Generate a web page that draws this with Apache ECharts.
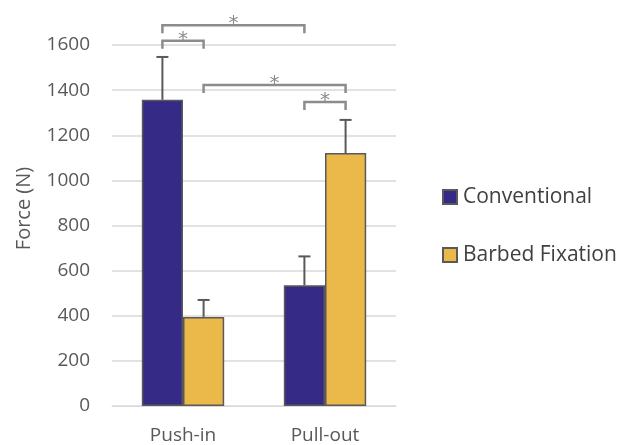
<!DOCTYPE html>
<html>
<head>
<meta charset="utf-8">
<script src="https://cdn.jsdelivr.net/npm/echarts@6/dist/echarts.min.js"></script>
<style>
  html, body { margin: 0; padding: 0; background: #fff; }
  #chart { width: 620px; height: 445px; }
</style>
</head>
<body>
<div id="chart"></div>
<script>
// Mean force per test, with the upper standard deviation
const categories = ['Push-in', 'Pull-out'];
const seriesNames = ['Conventional', 'Barbed Fixation'];
const conventional = [1357, 535];
const conventionalSD = [190, 128];
const barbed = [395, 1121];
const barbedSD = [75, 147];
const yTicks = [0, 200, 400, 600, 800, 1000, 1200, 1400, 1600];

// Significance brackets: [category, series] of each end, bracket height (N)
const bracketFrom = [[0, 0], [0, 0], [0, 1], [1, 0]];
const bracketTo = [[1, 0], [0, 1], [1, 1], [1, 1]];
const bracketLevel = [1688, 1619, 1423, 1347];

const FONT = 'Open Sans';
const colors = ['#352A85', '#EBB84A'];
const BAR_FRAC = 0.29; // each bar's share of the category band

const means = [conventional, barbed];
const sds = [conventionalSD, barbedSD];

const chart = echarts.init(document.getElementById('chart'), null, { renderer: 'canvas' });

function barCenterX(api, cat, s, y) {
  const p = api.coord([cat, y]);
  const band = api.size([1, 0])[0];
  const w = band * BAR_FRAC;
  return [p[0] + (s === 0 ? -w / 2 : w / 2), p[1]];
}

const errorData = [];
for (let s = 0; s < 2; s++) {
  for (let c = 0; c < categories.length; c++) {
    errorData.push([c, means[s][c], means[s][c] + sds[s][c], s]);
  }
}

const bracketData = bracketLevel.map((lv, i) =>
  [bracketFrom[i][0], bracketFrom[i][1], bracketTo[i][0], bracketTo[i][1], lv]);

const option = {
  animation: false,
  grid: { left: 112, right: 224, top: 45, bottom: 38, containLabel: false },
  legend: {
    data: seriesNames,
    orient: 'vertical',
    left: 437,
    top: 181,
    itemWidth: 14,
    itemHeight: 14,
    itemGap: 36,
    icon: 'rect',
    textStyle: { fontFamily: FONT, fontSize: 21, lineHeight: 22, color: '#404040', padding: [0, 0, 0, 1] }
  },
  xAxis: {
    type: 'category',
    data: categories,
    axisLine: { lineStyle: { color: '#d9d9d9', width: 1 } },
    axisTick: { show: false },
    axisLabel: { fontFamily: FONT, fontSize: 19, color: '#595959', margin: 20 }
  },
  yAxis: {
    type: 'value',
    min: yTicks[0],
    max: yTicks[yTicks.length - 1],
    interval: 200,
    name: 'Force (N)',
    nameLocation: 'middle',
    nameGap: 78,
    nameTextStyle: { fontFamily: FONT, fontSize: 20, color: '#595959', padding: [0, 0, 0, 34] },
    axisLine: { show: false },
    axisTick: { show: false },
    axisLabel: {
      fontFamily: FONT, fontSize: 19, color: '#595959', margin: 22,
      formatter: function (v) { return String(v); }
    },
    splitLine: { lineStyle: { color: '#d9d9d9', width: 1.5 } }
  },
  series: [
    {
      name: seriesNames[0],
      type: 'bar',
      data: conventional,
      barWidth: (BAR_FRAC * 100) + '%',
      barGap: '0%',
      itemStyle: { color: colors[0], borderColor: '#595959', borderWidth: 1.5 }
    },
    {
      name: seriesNames[1],
      type: 'bar',
      data: barbed,
      barWidth: (BAR_FRAC * 100) + '%',
      barGap: '0%',
      itemStyle: { color: colors[1], borderColor: '#595959', borderWidth: 1.5 }
    },
    {
      type: 'custom',
      name: 'sd',
      data: errorData,
      z: 1,
      renderItem: function (params, api) {
        const c = api.value(0), s = api.value(3);
        const lo = barCenterX(api, c, s, api.value(1));
        const hi = barCenterX(api, c, s, api.value(2));
        const cap = 6;
        const style = { stroke: '#595959', lineWidth: 2 };
        return {
          type: 'group',
          children: [
            { type: 'line', shape: { x1: lo[0], y1: lo[1], x2: hi[0], y2: hi[1] }, style: style },
            { type: 'line', shape: { x1: hi[0] - cap, y1: hi[1], x2: hi[0] + cap, y2: hi[1] }, style: style }
          ]
        };
      }
    },
    {
      type: 'custom',
      name: 'sig',
      data: bracketData,
      clip: false,
      renderItem: function (params, api) {
        const lv = api.value(4);
        const a = barCenterX(api, api.value(0), api.value(1), lv);
        const b = barCenterX(api, api.value(2), api.value(3), lv);
        const leg = 8;
        const style = { stroke: '#8c8c8c', lineWidth: 2.5, fill: null };
        return {
          type: 'group',
          children: [
            {
              type: 'polyline',
              shape: { points: [[a[0], a[1] + leg], [a[0], a[1]], [b[0], b[1]], [b[0], b[1] + leg]] },
              style: style
            },
            {
              type: 'text',
              style: {
                text: '*', x: (a[0] + b[0]) / 2, y: a[1] + 9,
                align: 'center', verticalAlign: 'bottom',
                fontFamily: 'DejaVu Sans', fontSize: 20, fill: '#8c8c8c'
              }
            }
          ]
        };
      }
    }
  ]
};

chart.setOption(option);
</script>
</body>
</html>
